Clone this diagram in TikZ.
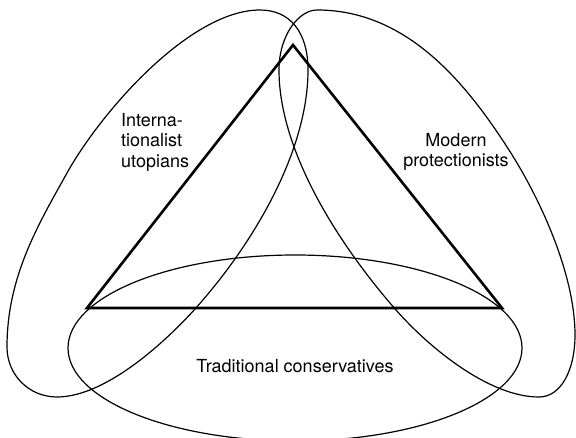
\documentclass[tikz,border=0pt]{standalone}
\usepackage{fontspec}
\setmainfont{TeX Gyre Heros}
\begin{document}
\begin{tikzpicture}[x=1pt,y=-1pt,
  loop/.style={draw=black,line width=1.2pt},
  tri/.style={draw=black,line width=2.6pt,line join=miter},
  lbl/.style={inner sep=0pt,font=\fontsize{18}{20.5}\selectfont}]
\useasboundingbox (0,0) rectangle (576,438);
% Internationalist utopians loop
\draw[loop] (260,10)
  .. controls (290,10) and (308,32) .. (308,70)
  .. controls (308,150) and (255,242) .. (195,309)
  .. controls (168,339) and (107,397) .. (57,397)
  .. controls (29,397) and (7,375) .. (7,347)
  .. controls (7,277) and (38,225) .. (67,173)
  .. controls (101,112) and (190,10) .. cycle;
% Modern protectionists loop
\draw[loop] (317,10)
  .. controls (407,10) and (466,83) .. (509,150)
  .. controls (541,200) and (575,275) .. (575,335)
  .. controls (575,370) and (561,397) .. (539,397)
  .. controls (489,397) and (429,347.5) .. (396,310)
  .. controls (337,242.5) and (279,150) .. (279,70)
  .. controls (279,35) and (299,10) .. cycle;
% Traditional conservatives ellipse
\draw[loop] (295,348) ellipse [x radius=227, y radius=93];
% triangle
\coordinate (A) at (293,45);
\coordinate (B) at (87,308);
\coordinate (C) at (502,308);
\draw[tri] (A) -- (B) -- (C) -- cycle;
% labels
\node[lbl,anchor=north west,align=left] (iu) at (121,113) {Interna-\\tionalist\\utopians};
\node[lbl,anchor=north,align=center] (mp) at (456,133) {Modern\\protectionists};
\node[lbl,anchor=north] (tc) at (295,359) {Traditional conservatives};
\end{tikzpicture}
\end{document}
